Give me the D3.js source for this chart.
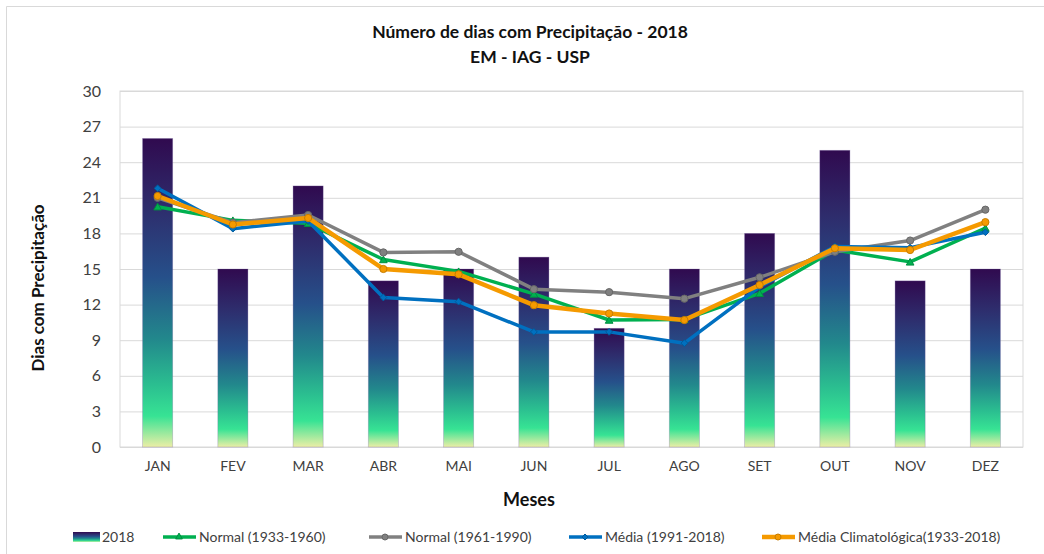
<!DOCTYPE html>
<html>
<head>
<meta charset="utf-8">
<script src="https://cdn.jsdelivr.net/npm/d3@7"></script>
<style>
  html, body { margin: 0; padding: 0; background: #fff; overflow: hidden; }
  #chart { width: 1044px; height: 554px; }
  svg { display: block; }
  text { font-family: Lato, "Open Sans", sans-serif; }
</style>
</head>
<body>
<div id="chart"></div>
<script>
const months = ["JAN", "FEV", "MAR", "ABR", "MAI", "JUN", "JUL", "AGO", "SET", "OUT", "NOV", "DEZ"];
const bars2018 = [26, 15, 22, 14, 15, 16, 10, 15, 18, 25, 14, 15];
const normal1933 = [20.25, 19.1, 18.85, 15.8, 14.8, 12.9, 10.7, 10.75, 12.95, 16.6, 15.6, 18.45];
const normal1961 = [21.0, 18.9, 19.55, 16.4, 16.45, 13.3, 13.05, 12.5, 14.3, 16.45, 17.4, 20.0];
const media1991 = [21.8, 18.4, 19.05, 12.6, 12.25, 9.7, 9.7, 8.75, 13.5, 16.9, 16.8, 18.1];
const mediaClim = [21.15, 18.75, 19.3, 15.0, 14.55, 11.95, 11.25, 10.7, 13.65, 16.75, 16.6, 18.95];
const yTicks = [0, 3, 6, 9, 12, 15, 18, 21, 24, 27, 30];

const series = [
  { name: "Normal (1933-1960)", values: normal1933, color: "#00b050", marker: "triangle", width: 3.5 },
  { name: "Normal (1961-1990)", values: normal1961, color: "#808080", marker: "circle", width: 3.5 },
  { name: "Média (1991-2018)", values: media1991, color: "#0070c0", marker: "diamond", width: 3.5 },
  { name: "Média Climatológica(1933-2018)", values: mediaClim, color: "#f59a00", marker: "circle", width: 4.5 },
];

const width = 1044, height = 554;
const margin = { top: 91, right: 21, bottom: 107, left: 120 };
const innerWidth = width - margin.left - margin.right;
const innerHeight = height - margin.top - margin.bottom;

const svg = d3.select("#chart").append("svg")
  .attr("width", width)
  .attr("height", height);

// gradient for the 2018 bars
const defs = svg.append("defs");
const grad = defs.append("linearGradient")
  .attr("id", "barGrad")
  .attr("x1", 0).attr("y1", 0).attr("x2", 0).attr("y2", 1);
[
  [0, "#300a4f"], [0.22, "#2e2c6c"], [0.45, "#26508a"], [0.65, "#22888c"],
  [0.8, "#2bbf90"], [0.9, "#37e394"], [1, "#ebeea6"],
].forEach(([o, c]) => grad.append("stop").attr("offset", o).attr("stop-color", c));

// outer frame (left and top edges only, the rest is off-canvas)
svg.append("path")
  .attr("d", `M6.5,${height}V6.5H${width}`)
  .attr("fill", "none")
  .attr("stroke", "#d9d9d9");

const g = svg.append("g").attr("transform", `translate(${margin.left},${margin.top})`);

const x = d3.scaleBand().domain(months).range([0, innerWidth]).padding(0.6).paddingOuter(0.3);
const y = d3.scaleLinear().domain([0, 30]).range([innerHeight, 0]);

// gridlines
g.append("g")
  .call(d3.axisLeft(y).tickValues(yTicks).tickSize(-innerWidth).tickFormat(""))
  .call((g) => g.selectAll("line").attr("stroke", "#d9d9d9"))
  .call((g) => g.selectAll("text").remove())
  .call((g) => g.select(".domain").remove());

g.append("rect")
  .attr("width", innerWidth).attr("height", innerHeight)
  .attr("fill", "none").attr("stroke", "#d9d9d9");

// y labels
g.append("g")
  .call(d3.axisLeft(y).tickValues(yTicks).tickSize(0).tickPadding(19))
  .call((g) => g.select(".domain").remove())
  .selectAll("text")
  .attr("font-size", 16)
  .attr("fill", "#404040");

// x labels
g.append("g")
  .attr("transform", `translate(0,${innerHeight})`)
  .call(d3.axisBottom(x).tickSize(0).tickPadding(14))
  .call((g) => g.select(".domain").remove())
  .selectAll("text")
  .attr("font-size", 14)
  .attr("fill", "#404040");

// bars
g.selectAll("rect.bar")
  .data(bars2018)
  .join("rect")
  .attr("class", "bar")
  .attr("x", (d, i) => x(months[i]))
  .attr("y", (d) => y(d))
  .attr("width", x.bandwidth())
  .attr("height", (d) => innerHeight - y(d))
  .attr("fill", "url(#barGrad)")
  .attr("stroke", "rgba(120,100,160,0.35)")
  .attr("stroke-width", 0.8);

const cx = (i) => x(months[i]) + x.bandwidth() / 2;

function drawMarker(sel, type, color, size) {
  const edge = d3.color(color).darker(0.6);
  if (type === "triangle") {
    sel.append("path").attr("d", d3.symbol(d3.symbolTriangle, size * size * 2.2)()).attr("fill", color).attr("stroke", edge);
  } else if (type === "diamond") {
    sel.append("path").attr("d", `M0,${-size}L${size},0L0,${size}L${-size},0Z`).attr("fill", color).attr("stroke", edge);
  } else {
    sel.append("circle").attr("r", size).attr("fill", color).attr("stroke", edge);
  }
}

const line = d3.line().x((d, i) => cx(i)).y((d) => y(d));

series.forEach((s) => {
  g.append("path")
    .attr("d", line(s.values))
    .attr("fill", "none")
    .attr("stroke", s.color)
    .attr("stroke-width", s.width)
    .attr("stroke-linejoin", "round");
  s.values.forEach((v, i) => {
    const m = g.append("g").attr("transform", `translate(${cx(i)},${y(v) + (s.marker === "triangle" ? 1 : 0)})`);
    drawMarker(m, s.marker, s.color, s.marker === "circle" ? 3.6 : 3.4);
  });
});

// titles
svg.append("text")
  .attr("x", 530).attr("y", 38)
  .attr("text-anchor", "middle")
  .attr("font-size", 17.5).attr("font-weight", "bold").attr("fill", "#111")
  .text("Número de dias com Precipitação - 2018");
svg.append("text")
  .attr("x", 530).attr("y", 63)
  .attr("text-anchor", "middle")
  .attr("font-size", 17.5).attr("font-weight", "bold").attr("fill", "#111")
  .text("EM - IAG - USP");

svg.append("text")
  .attr("transform", "translate(44,288) rotate(-90)")
  .attr("text-anchor", "middle")
  .attr("font-size", 17).attr("font-weight", "bold").attr("fill", "#111")
  .text("Dias com Precipitação");

svg.append("text")
  .attr("x", 529).attr("y", 506)
  .attr("text-anchor", "middle")
  .attr("font-size", 18).attr("font-weight", "bold").attr("fill", "#111")
  .text("Meses");

// legend
const ly = 537;
const leg = svg.append("g");
leg.append("rect")
  .attr("x", 73).attr("y", ly - 5).attr("width", 27).attr("height", 10)
  .attr("fill", "url(#barGrad)");
leg.append("text")
  .attr("x", 102).attr("y", ly + 5)
  .attr("font-size", 14).attr("fill", "#404040")
  .text("2018");

const legendX = [163, 369, 569, 762];
series.forEach((s, k) => {
  const x0 = legendX[k];
  leg.append("line")
    .attr("x1", x0).attr("x2", x0 + 33)
    .attr("y1", ly).attr("y2", ly)
    .attr("stroke", s.color).attr("stroke-width", s.width);
  const m = leg.append("g").attr("transform", `translate(${x0 + 16},${ly})`);
  drawMarker(m, s.marker, s.color, 3);
  leg.append("text")
    .attr("x", x0 + 36).attr("y", ly + 5)
    .attr("font-size", 14).attr("fill", "#404040")
    .text(s.name);
});
</script>
</body>
</html>
